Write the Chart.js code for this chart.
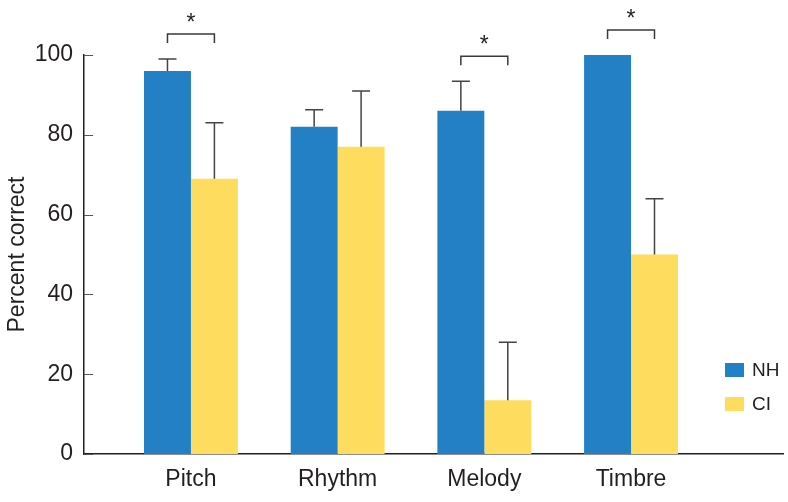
<!DOCTYPE html>
<html>
<head>
<meta charset="utf-8">
<script src="https://cdn.jsdelivr.net/npm/chart.js@4/dist/chart.umd.min.js"></script>
<style>
  html, body { margin: 0; padding: 0; background: #ffffff; }
  #wrap { width: 788px; height: 502px; }
</style>
</head>
<body>
<div id="wrap"><canvas id="c" width="788" height="502"></canvas></div>
<script>
// ---- data ----
const categories = ['Pitch', 'Rhythm', 'Melody', 'Timbre'];
const seriesNames = ['NH', 'CI'];
const nhValues = [96, 82, 86, 100];
const ciValues = [69, 77, 13.5, 50];
const nhErrors = [3, 4.3, 7.4, 0];   // upper error (SD)
const ciErrors = [14, 14, 14.5, 14];
const significant = [true, false, true, true];
const yTicks = [0, 20, 40, 60, 80, 100];

const NH_COLOR = '#2380c5';
const CI_COLOR = '#fddc5e';
const INK = '#231f20';
const FONT = "'Liberation Sans', Arial, Helvetica, sans-serif";

const toPoints = vals => vals.map((v, i) => ({ x: i + 1, y: v }));

const errorBarPlugin = {
  id: 'errorBars',
  afterDatasetsDraw(chart) {
    const ctx = chart.ctx;
    const ys = chart.scales.y;
    const errs = [nhErrors, ciErrors];
    const vals = [nhValues, ciValues];
    ctx.save();
    ctx.strokeStyle = '#444444';
    ctx.lineWidth = 1.5;
    chart.data.datasets.forEach((ds, di) => {
      const meta = chart.getDatasetMeta(di);
      meta.data.forEach((bar, j) => {
        const e = errs[di][j];
        if (!e) return;
        const y0 = ys.getPixelForValue(vals[di][j]);
        const y1 = ys.getPixelForValue(vals[di][j] + e);
        ctx.beginPath();
        ctx.moveTo(bar.x, y0);
        ctx.lineTo(bar.x, y1);
        ctx.moveTo(bar.x - 9, y1);
        ctx.lineTo(bar.x + 9, y1);
        ctx.stroke();
      });
    });
    // significance brackets
    const m0 = chart.getDatasetMeta(0), m1 = chart.getDatasetMeta(1);
    ctx.strokeStyle = '#3a3a3a';
    ctx.fillStyle = INK;
    ctx.font = '23px ' + FONT;
    ctx.textAlign = 'center';
    ctx.textBaseline = 'alphabetic';
    significant.forEach((s, j) => {
      if (!s) return;
      const top = Math.max(nhValues[j] + nhErrors[j], ciValues[j] + ciErrors[j]);
      const yb = ys.getPixelForValue(top) - 25;
      const xa = m0.data[j].x, xb = m1.data[j].x;
      ctx.beginPath();
      ctx.moveTo(xa, yb + 9);
      ctx.lineTo(xa, yb);
      ctx.lineTo(xb, yb);
      ctx.lineTo(xb, yb + 9);
      ctx.stroke();
      ctx.fillText('*', (xa + xb) / 2, yb - 4);
    });
    ctx.restore();
  },
  afterDraw(chart) {
    const ctx = chart.ctx;
    const ys = chart.scales.y;
    const area = chart.chartArea;
    ctx.save();
    // inward y ticks
    ctx.strokeStyle = '#555';
    ctx.lineWidth = 1;
    ys.ticks.forEach(t => {
      const y = Math.round(ys.getPixelForValue(t.value)) + 0.5;
      ctx.beginPath();
      ctx.moveTo(area.left, y);
      ctx.lineTo(area.left + 9, y);
      ctx.stroke();
    });
    // legend
    const colors = [NH_COLOR, CI_COLOR];
    ctx.font = '19px ' + FONT;
    ctx.textBaseline = 'middle';
    ctx.textAlign = 'left';
    seriesNames.forEach((n, i) => {
      const x = area.right - 58;
      const y = 363 + i * 34;
      ctx.fillStyle = colors[i];
      ctx.fillRect(x, y, 19, 14);
      ctx.fillStyle = INK;
      ctx.fillText(n, x + 27, y + 8);
    });
    ctx.restore();
  }
};

new Chart(document.getElementById('c'), {
  type: 'bar',
  data: {
    datasets: [
      { label: seriesNames[0], data: toPoints(nhValues), backgroundColor: NH_COLOR, borderWidth: 0 },
      { label: seriesNames[1], data: toPoints(ciValues), backgroundColor: CI_COLOR, borderWidth: 0 }
    ]
  },
  options: {
    responsive: false,
    animation: false,
    layout: { padding: { top: 55, right: 5, left: 0, bottom: 0 } },
    datasets: { bar: { categoryPercentage: 0.64, barPercentage: 1.0 } },
    plugins: { legend: { display: false }, tooltip: { enabled: false } },
    scales: {
      x: {
        type: 'linear',
        offset: false,
        bounds: 'data',
        min: 0.271,
        max: 5.036,
        afterBuildTicks: s => { s.ticks = categories.map((c, i) => ({ value: i + 1 })); },
        afterFit: s => { s.height = 48; },
        grid: { display: false, offset: false },
        border: { display: true, color: INK, width: 1.5 },
        ticks: {
          padding: 4,
          color: INK,
          font: { family: FONT, size: 23 },
          callback: v => categories[v - 1] || ''
        }
      },
      y: {
        min: 0,
        max: 100,
        afterBuildTicks: s => { s.ticks = yTicks.map(v => ({ value: v })); },
        afterFit: s => { s.width = 84; },
        grid: { display: false },
        border: { display: true, color: INK, width: 1.5 },
        ticks: { padding: 3, color: INK, font: { family: FONT, size: 23 } },
        title: {
          display: true,
          text: 'Percent correct',
          color: INK,
          font: { family: FONT, size: 23 },
          padding: { top: 4, bottom: 0 }
        }
      }
    }
  },
  plugins: [errorBarPlugin]
});
</script>
</body>
</html>
